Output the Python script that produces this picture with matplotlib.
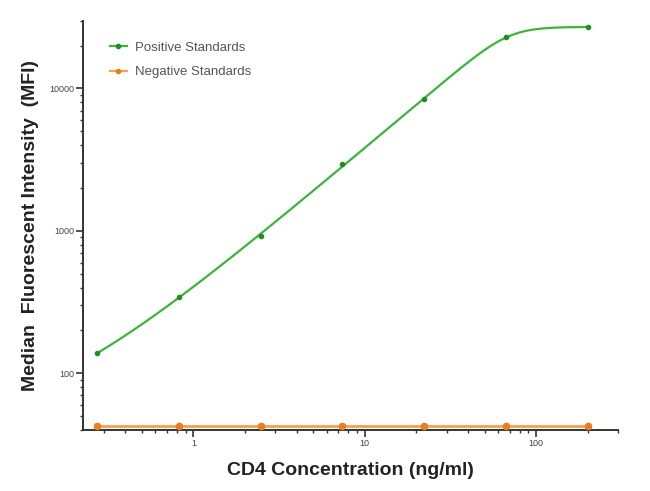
import numpy as np
import matplotlib
matplotlib.use("Agg")
import matplotlib.pyplot as plt
from matplotlib.ticker import LogLocator, NullFormatter, FixedLocator, FixedFormatter

# CD4 standards, 1:3 dilution series (ng/ml)
conc = [0.274, 0.823, 2.47, 7.41, 22.2, 66.7, 200.0]
pos_mfi = [138, 345, 919, 2960, 8410, 22850, 27100]
neg_mfi = [43, 43, 43, 43, 43, 43, 43]

x_ticks = [1, 10, 100]
x_tick_labels = ["1", "10", "100"]
y_ticks = [100, 1000, 10000]
y_tick_labels = ["100", "1000", "10000"]

green = "#3cb43c"
green_dark = "#1f8f1f"
orange = "#f5a04a"
orange_dark = "#e5801f"


def richards(x, a, d, c, b, n):
    u = np.asarray(x, float) / c
    return a + d * u ** b / (1 + u ** (b * n)) ** (1.0 / n)


def fit_curve(x, y):
    # saturating fit: a + d*u^b/(1+u^(bn))^(1/n), u = x/c
    # grid over (c, b, n), a and d by weighted linear least squares, refined twice
    x = np.asarray(x, float)
    y = np.asarray(y, float)
    lc = (0.5, 3.0); lb = (0.5, 2.0); ln = (-0.5, 1.3)
    best = None
    for it in range(3):
        C, B, N = np.meshgrid(np.linspace(*lc, 40), np.linspace(*lb, 40),
                              np.linspace(*ln, 40), indexing="ij")
        C = 10 ** C.ravel()[:, None]; B = B.ravel()[:, None]; N = 10 ** N.ravel()[:, None]
        u = x[None, :] / C
        F = u ** B / (1 + u ** (B * N)) ** (1.0 / N)
        A1 = 1.0 / y[None, :] + 0 * F
        A2 = F / y
        s11 = (A1 * A1).sum(1); s12 = (A1 * A2).sum(1); s22 = (A2 * A2).sum(1)
        r1 = A1.sum(1); r2 = A2.sum(1)
        det = s11 * s22 - s12 ** 2
        a = (r1 * s22 - r2 * s12) / det
        d = (r2 * s11 - r1 * s12) / det
        model = a[:, None] + d[:, None] * F
        with np.errstate(invalid="ignore", divide="ignore"):
            loss = ((np.log(np.where(model > 0, model, np.nan)) - np.log(y)) ** 2).sum(1)
        i = np.nanargmin(loss)
        best = (a[i], d[i], C[i, 0], B[i, 0], N[i, 0])
        c0, b0, n0 = np.log10(best[2]), best[3], np.log10(best[4])
        wc = (lc[1] - lc[0]) / 8; wb = (lb[1] - lb[0]) / 8; wn = (ln[1] - ln[0]) / 8
        lc = (c0 - wc, c0 + wc); lb = (b0 - wb, b0 + wb); ln = (n0 - wn, n0 + wn)
    return best


params = fit_curve(conc, pos_mfi)
xs = np.logspace(np.log10(conc[0]), np.log10(conc[-1]), 400)
ys = richards(xs, *params)

plt.rcParams["font.family"] = ["Liberation Sans", "DejaVu Sans"]

fig = plt.figure(figsize=(6.5, 4.91), dpi=100)
ax = fig.add_axes([0.1277, 0.1242, 0.8231, 0.834])

ax.plot(xs, ys, color=green, lw=1.6, zorder=3)
ax.plot(conc, pos_mfi, "o", color=green_dark, ms=3, zorder=4)
ax.plot(conc, neg_mfi, "-o", color=orange, mfc=orange_dark, mec=orange_dark,
        lw=2.0, ms=4.5, zorder=3)

# legend proxies
ax.plot([], [], "-o", color=green, mfc=green_dark, mec=green_dark, lw=1.6, ms=3,
        label="Positive Standards")
ax.plot([], [], "-o", color=orange, mfc=orange_dark, mec=orange_dark, lw=1.6, ms=3,
        label="Negative Standards")
leg = ax.legend(loc="upper left", bbox_to_anchor=(0.05, 0.948), frameon=False,
                borderpad=0, borderaxespad=0,
                fontsize=9.5, handlelength=1.3, handletextpad=0.6, labelspacing=0.9)
for t in leg.get_texts():
    t.set_color("#555555")

ax.set_xscale("log")
ax.set_yscale("log")
ax.set_xlim(0.227, 300)
ax.set_ylim(40, 30000)

for s in ["top", "right"]:
    ax.spines[s].set_visible(False)
for s in ["left", "bottom"]:
    ax.spines[s].set_color("#333333")
    ax.spines[s].set_linewidth(1.4)

ax.xaxis.set_major_locator(FixedLocator(x_ticks))
ax.xaxis.set_major_formatter(FixedFormatter(x_tick_labels))
ax.yaxis.set_major_locator(FixedLocator(y_ticks))
ax.yaxis.set_major_formatter(FixedFormatter(y_tick_labels))
ax.xaxis.set_minor_locator(LogLocator(base=10, subs=np.arange(2, 10), numticks=20))
ax.yaxis.set_minor_locator(LogLocator(base=10, subs=np.arange(2, 10), numticks=20))
ax.xaxis.set_minor_formatter(NullFormatter())
ax.yaxis.set_minor_formatter(NullFormatter())
ax.tick_params(which="major", length=5, width=1.2, color="#333333",
               labelsize=6.5, labelcolor="#444444", pad=1.5)
ax.tick_params(which="minor", length=2.5, width=1.0, color="#333333")

ax.set_xlabel("CD4 Concentration (ng/ml)", fontsize=14, fontweight="bold",
              color="#222222", labelpad=10)
ax.set_ylabel("Median  Fluorescent Intensity  (MFI)", fontsize=14,
              fontweight="bold", color="#222222", labelpad=7)

fig.savefig("out.png", dpi=100)
